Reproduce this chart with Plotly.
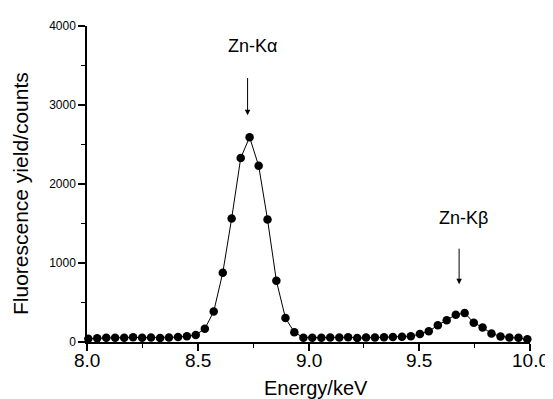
import plotly.graph_objects as go

# Energy channels (keV)
energy = [8.006, 8.046, 8.087, 8.127, 8.168, 8.208, 8.249, 8.289, 8.330, 8.370,
          8.411, 8.451, 8.491, 8.532, 8.572, 8.613, 8.653, 8.694, 8.734, 8.775,
          8.815, 8.855, 8.896, 8.936, 8.977, 9.017, 9.058, 9.098, 9.139, 9.179,
          9.220, 9.260, 9.300, 9.341, 9.381, 9.422, 9.462, 9.503, 9.543, 9.584,
          9.624, 9.665, 9.705, 9.746, 9.786, 9.826, 9.867, 9.907, 9.948, 9.988]

# Fluorescence yield (counts)
counts = [42, 48, 55, 55, 55, 60, 55, 57, 50, 57,
          62, 72, 90, 168, 385, 877, 1563, 2329, 2593, 2230,
          1551, 774, 303, 124, 55, 55, 55, 58, 58, 60,
          50, 58, 58, 60, 62, 66, 74, 100, 135, 213,
          275, 345, 368, 245, 183, 108, 71, 58, 54, 36]

x_ticks = [8.0, 8.5, 9.0, 9.5, 10.0]
x_tick_labels = ["8.0", "8.5", "9.0", "9.5", "10.0"]
y_ticks = [0, 1000, 2000, 3000, 4000]

# Peak labels
peak_labels = ["Zn-K\u03b1", "Zn-K\u03b2"]
peak_arrow_x = [8.725, 9.680]
peak_arrow_tail = [3360, 1200]
peak_arrow_head = [2870, 730]
peak_text_x = [8.745, 9.70]
peak_text_y = [3750, 1570]

FONT = "Liberation Sans, Arial, Helvetica, sans-serif"

fig = go.Figure()
fig.add_trace(go.Scatter(
    x=energy, y=counts, mode="lines+markers",
    line=dict(color="black", width=1),
    marker=dict(color="black", size=8.5),
    cliponaxis=False, showlegend=False,
))

for i, lab in enumerate(peak_labels):
    fig.add_annotation(
        x=peak_arrow_x[i], y=peak_arrow_head[i], xref="x", yref="y",
        ax=peak_arrow_x[i], ay=peak_arrow_tail[i], axref="x", ayref="y",
        text="", showarrow=True, arrowhead=2, arrowsize=1.1, arrowwidth=1,
        arrowcolor="black",
    )
    fig.add_annotation(
        x=peak_text_x[i], y=peak_text_y[i], xref="x", yref="y",
        text=lab, showarrow=False,
        font=dict(family=FONT, size=18, color="black"),
    )

# X tick labels (placed closer to the axis than Plotly's default)
for v, lab in zip(x_ticks, x_tick_labels):
    fig.add_annotation(x=v, y=-0.060, xref="x", yref="paper", text=lab,
                       showarrow=False, xanchor="center", yanchor="middle",
                       font=dict(family=FONT, size=19, color="black"))

# Axis titles
fig.add_annotation(x=0.518, y=-0.146, xref="paper", yref="paper",
                   text="Energy/keV", showarrow=False, xanchor="center", yanchor="middle",
                   font=dict(family=FONT, size=20, color="black"))
fig.add_annotation(x=-0.150, y=0.47, xref="paper", yref="paper",
                   text="Fluorescence yield/counts", showarrow=False, textangle=-90,
                   xanchor="center", yanchor="middle",
                   font=dict(family=FONT, size=21, color="black"))

fig.update_xaxes(
    range=[8.0, 10.0], tickvals=x_ticks, showticklabels=False,
    showgrid=False, zeroline=False, showline=True, linecolor="black", linewidth=1.5,
    ticks="outside", ticklen=7, tickwidth=1.5, tickcolor="black",
    minor=dict(dtick=0.25, tick0=8.0, ticks="outside", ticklen=4, tickwidth=1.2, tickcolor="black"),
)
fig.update_yaxes(
    range=[0, 4000], tickvals=y_ticks,
    showgrid=False, zeroline=False, showline=True, linecolor="black", linewidth=1.5,
    ticks="outside", ticklen=7, tickwidth=1.5, tickcolor="black",
    tickfont=dict(family=FONT, size=12, color="black"),
    minor=dict(dtick=500, tick0=0, ticks="outside", ticklen=4, tickwidth=1.2, tickcolor="black"),
)

# The page body has an 8px margin, so the figure is sized/placed to compensate
fig.update_layout(
    width=545, height=391,
    margin=dict(l=79, r=23, t=11, b=57),
    plot_bgcolor="white", paper_bgcolor="white",
    font=dict(family=FONT, color="black"),
)

fig.write_html("out.html")
